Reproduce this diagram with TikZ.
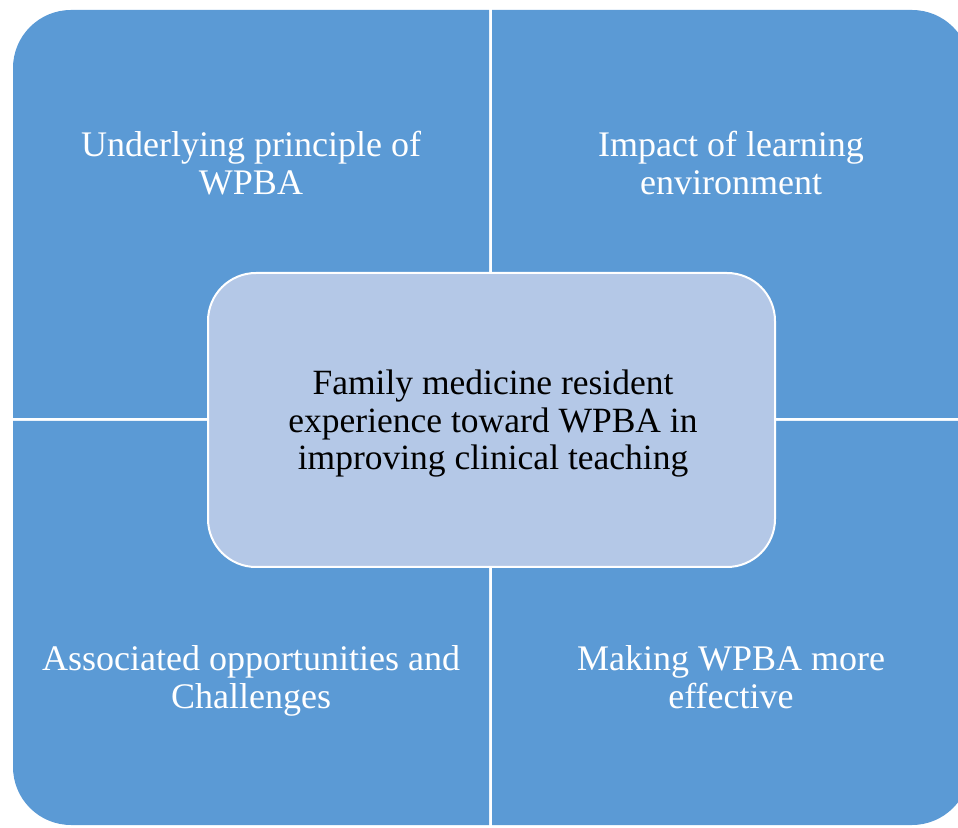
\documentclass[tikz,border=0pt]{standalone}
\usepackage{fontspec}
\setmainfont{Liberation Serif}
\definecolor{quad}{HTML}{5B9AD5}
\definecolor{centerfill}{HTML}{B4C8E7}
\tikzset{
  x=1pt,y=1pt,
  quadfill/.style={fill=quad},
  quadtext/.style={text=white, align=center, font=\fontsize{36}{38}\selectfont, inner sep=0pt},
  centerbox/.style={draw=white, line width=2pt, fill=centerfill, rounded corners=48pt, minimum width=567pt, minimum height=294pt, inner sep=0pt},
  centertext/.style={text=black, align=center, font=\fontsize{35.5}{37.5}\selectfont, inner sep=0pt}
}
\begin{document}
\begin{tikzpicture}
\useasboundingbox (0,0) rectangle (958,827);
\begin{scope}
\clip (0,0) rectangle (958,827);
% top-left
\fill[quadfill] (489,409) -- (13,409) -- (13,759) arc[start angle=180,end angle=90,radius=58] -- (489,817) -- cycle;
% top-right
\fill[quadfill] (492,409) -- (492,817) -- (912,817) arc[start angle=90,end angle=0,radius=58] -- (970,409) -- cycle;
% bottom-left
\fill[quadfill] (489,406) -- (13,406) -- (13,60) arc[start angle=180,end angle=270,radius=58] -- (489,2) -- cycle;
% bottom-right
\fill[quadfill] (492,406) -- (970,406) -- (970,60) arc[start angle=0,end angle=-90,radius=58] -- (492,2) -- cycle;
\end{scope}
\node[quadtext] (tl) at (251,664) {Underlying principle of\\WPBA};
\node[quadtext] (tr) at (731,664) {Impact of learning\\environment};
\node[quadtext] (bl) at (251,146) {Associated opportunities and\\Challenges};
\node[quadtext] (br) at (731,150) {Making WPBA more\\effective};
\node[centerbox] (c) at (491.5,407) {};
\node[centertext] (ct) at (493,403) {Family medicine resident\\experience toward WPBA in\\improving clinical teaching};
\end{tikzpicture}
\end{document}
